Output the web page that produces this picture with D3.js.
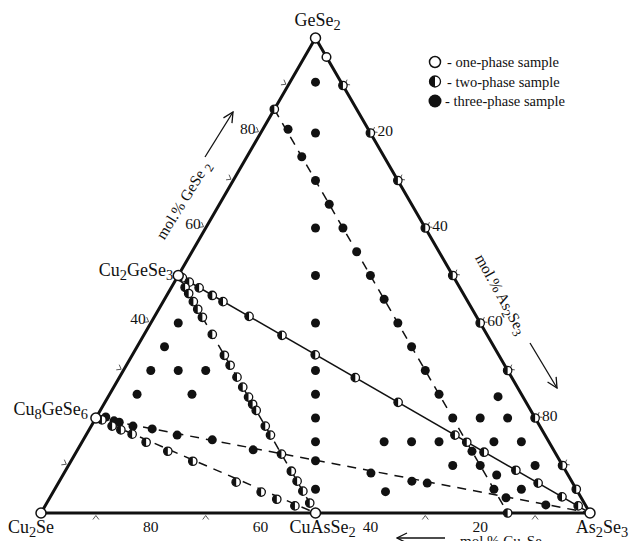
<!DOCTYPE html>
<html><head><meta charset="utf-8">
<script src="https://cdn.jsdelivr.net/npm/d3@7/dist/d3.min.js"></script>
<style>html,body{margin:0;padding:0;background:#fff;overflow:hidden}svg{display:block}</style>
</head><body>
<svg id="chart" width="630" height="541"></svg>
<script>
// Compositions in mol.%: [GeSe2, As2Se3]; Cu2Se = 100 - GeSe2 - As2Se3
const compoundNames = ["GeSe2", "Cu2Se", "As2Se3", "Cu2GeSe3", "Cu8GeSe6", "CuAsSe2"];
const compoundComp  = [[100, 0], [0, 0], [0, 100], [50, 0], [20, 0], [0, 50]];

const onePhase = [[100, 0], [0, 0], [0, 100], [50, 0], [20, 0], [0, 50], [96, 4]];

const twoPhaseEdges = [[85, 0], [0, 85], [90, 10], [80, 20], [70, 30], [60, 40], [50, 50],
  [40, 60], [30, 70], [20, 80], [10, 90], [5, 95]];
// Cu2GeSe3 - As2Se3 join
const twoPhaseJoin = [[49.5, 1], [48.6, 2.7], [47.4, 5.1], [45.8, 8.3], [44.5, 10.9], [41.4, 17.2],
  [37.4, 25.2], [33.3, 33.3], [28.5, 43], [23.3, 53.4], [16.4, 67.2], [14.9, 70.1], [12.8, 74.3],
  [9, 82], [6.3, 87.4], [3.4, 93.2], [1.5, 97.1]];
// Cu2GeSe3 - CuAsSe2 section
const twoPhaseSecA = [[47.5, 2.5], [46.2, 3.8], [44.5, 5.5], [42.9, 7.1], [41.2, 8.8], [37.6, 12.4],
  [33.2, 16.8], [31.1, 18.9], [28.6, 21.4], [26.5, 23.5], [24.4, 25.6], [22.9, 27.1], [21.6, 28.4],
  [18.3, 31.7], [16.4, 33.6], [12.4, 37.6], [8.8, 41.2], [6.7, 43.3], [4.6, 45.4], [2.1, 47.9]];
// Cu8GeSe6 - CuAsSe2 section
const twoPhaseSecB = [[19.6, 1.3], [18.3, 3.8], [17.5, 5.8], [16.6, 8.3], [14.9, 11.7], [13, 16.6],
  [10.9, 22.2], [6.5, 32.3], [4.4, 37.9], [2.9, 41.5], [1.5, 45.5]];

const threePhaseColumn = [[90.7, 4.65], [80, 10], [70, 15], [60, 20], [50, 25], [40, 30], [30, 35],
  [25, 37.5], [20, 40], [15, 42.5], [11, 44.5], [5, 47.5]];
const threePhaseCut15 = [[80.8, 4.6], [75, 10], [65, 20], [60, 25], [55, 30], [50, 35], [45, 40],
  [40, 45], [35, 50], [30, 55], [25, 60], [20, 65], [13, 72], [10, 75], [5, 80]];
const threePhaseCu8 = [[20.2, 1.7], [19.4, 3.6], [19.1, 4.7], [18.3, 7.6], [17.7, 11.4], [16.4, 16.6],
  [15.4, 23.5], [13.3, 32], [8.4, 55.9], [6.7, 64.2], [6.3, 67.2], [3.2, 83.1], [1.7, 91.1]];
const threePhaseLeft = [[40, 5], [35, 5], [30, 5], [30, 10], [30, 15], [25, 5], [25, 15]];
const threePhaseRight = [[15, 55], [15, 60], [15, 65], [4.5, 60.5], [10, 70], [24.5, 71], [20, 70],
  [20, 75], [15, 75], [15, 80], [10, 85], [8, 79], [5, 85]];

const solidLines = [[[50, 0], [0, 100]]];
const dashedLines = [[[85, 0], [0, 85]], [[50, 0], [0, 50]], [[20, 0], [0, 50]], [[20, 0], [0, 100]]];

const bottomTickLabels = ["80", "60", "40", "20"]; // mol.% Cu2Se
const leftTickLabels = ["40", "60", "80"];         // mol.% GeSe2
const rightTickLabels = ["20", "40", "60", "80"];  // mol.% As2Se3
const tickSteps = [10, 20, 30, 40, 50, 60, 70, 80, 90];
const legendLabels = ["- one-phase sample", "- two-phase sample", "- three-phase sample"];
const axisTitles = ["mol.% GeSe 2", "mol.% As2Se3", "mol.% Cu2Se"];

// ---------------------------------------------------------------
const svg = d3.select("#chart");
const FONT = "'Liberation Serif','Times New Roman',serif";
const INK = "#111";
const xs = d3.scaleLinear().domain([0, 100]).range([41, 590]);   // As2Se3 + GeSe2/2
const ys = d3.scaleLinear().domain([0, 100]).range([513, 38]);   // GeSe2
const proj = ([a, b]) => [xs(b + a / 2), ys(a)];

function rich(sel, str, sub = 0.8) {
  const parts = str.match(/\d+|\D+/g);
  let down = false;
  parts.forEach(p => {
    const isNum = /^\d+$/.test(p);
    const t = sel.append("tspan").text(p);
    if (isNum) { t.attr("dy", "0.3em").attr("font-size", (sub * 100) + "%"); down = true; }
    else if (down) { t.attr("dy", "-0.24em"); down = false; }
  });
  return sel;
}

// triangle
const tri = [[0, 0], [0, 100], [100, 0]].map(proj);
svg.append("path").attr("d", "M" + tri.join("L") + "Z")
  .attr("fill", "none").attr("stroke", INK).attr("stroke-width", 3).attr("stroke-linejoin", "miter");

// ticks (small chevrons outside edges)
const edges = [
  { pt: v => [0, v], n: [0, 1], d: [1, 0], vals: [10, 30, 70, 90] },
  { pt: v => [v, 0], n: [-0.866, -0.5], d: [0.5, -0.866], vals: [10, 30, 40, 60, 70, 80, 90] },
  { pt: v => [100 - v, v], n: [0.866, -0.5], d: [0.5, 0.866], vals: tickSteps }
];
edges.forEach(e => {
  e.vals.forEach(v => {
    const [x, y] = proj(e.pt(v));
    const ax = x + e.n[0] * 2.5, ay = y + e.n[1] * 2.5;
    const b1 = [x + e.n[0] * 6.5 - e.d[0] * 3, y + e.n[1] * 6.5 - e.d[1] * 3];
    const b2 = [x + e.n[0] * 6.5 + e.d[0] * 3, y + e.n[1] * 6.5 + e.d[1] * 3];
    svg.append("path").attr("d", `M${b1}L${ax},${ay}L${b2}`)
      .attr("fill", "none").attr("stroke", "#444").attr("stroke-width", 0.9);
  });
});

// joins
solidLines.forEach(l => svg.append("line")
  .attr("x1", proj(l[0])[0]).attr("y1", proj(l[0])[1]).attr("x2", proj(l[1])[0]).attr("y2", proj(l[1])[1])
  .attr("stroke", INK).attr("stroke-width", 1.5));
dashedLines.forEach(l => svg.append("line")
  .attr("x1", proj(l[0])[0]).attr("y1", proj(l[0])[1]).attr("x2", proj(l[1])[0]).attr("y2", proj(l[1])[1])
  .attr("stroke", INK).attr("stroke-width", 1.5).attr("stroke-dasharray", "9,7"));

// markers
function drawOpen(g, r) {
  g.append("circle").attr("r", r).attr("fill", "#fff").attr("stroke", INK).attr("stroke-width", 1.5);
}
function drawHalf(g, r) {
  g.append("circle").attr("r", r).attr("fill", "#fff").attr("stroke", INK).attr("stroke-width", 1.3);
  g.append("path").attr("d", `M0,${-r}A${r},${r} 0 0 0 0,${r}Z`).attr("fill", INK);
}
function drawFull(g, r) {
  g.append("circle").attr("r", r).attr("fill", INK);
}
const place = (data, fn, r) => data.forEach(c => {
  const [x, y] = proj(c);
  fn(svg.append("g").attr("transform", `translate(${x},${y})`), r);
});
place([...threePhaseColumn, ...threePhaseCut15, ...threePhaseCu8, ...threePhaseLeft, ...threePhaseRight], drawFull, 4.5);
place([...twoPhaseJoin, ...twoPhaseSecA, ...twoPhaseSecB, ...twoPhaseEdges], drawHalf, 4.2);
place(onePhase.slice(0, 6), drawOpen, 5);
place(onePhase.slice(6), drawOpen, 4.3);

// compound labels
const labelCfg = [
  { dx: 2, dy: -12, anchor: "middle" },
  { dx: -10, dy: 20, anchor: "middle" },
  { dx: 12, dy: 20, anchor: "middle" },
  { dx: -5, dy: 0, anchor: "end" },
  { dx: -8, dy: -3, anchor: "end" },
  { dx: 7, dy: 20, anchor: "middle" }
];
compoundNames.forEach((n, i) => {
  const [x, y] = proj(compoundComp[i]);
  rich(svg.append("text").attr("x", x + labelCfg[i].dx).attr("y", y + labelCfg[i].dy)
    .attr("text-anchor", labelCfg[i].anchor).attr("font-family", FONT).attr("font-size", 18)
    .attr("fill", INK), n);
});

// tick labels
const tl = (x, y, t, anchor) => svg.append("text").attr("x", x).attr("y", y).attr("text-anchor", anchor)
  .attr("font-family", FONT).attr("font-size", 15.5).attr("fill", INK).text(t);
bottomTickLabels.forEach(t => { const [x, y] = proj([0, 100 - +t]); tl(x, y + 19, t, "middle"); });
leftTickLabels.forEach(t => { const [x, y] = proj([+t, 0]); tl(x - 5, y + 1, t, "end"); });
rightTickLabels.forEach(t => { const [x, y] = proj([100 - +t, +t]); tl(x + 7, y + 3, t, "start"); });

// axis titles + arrows
svg.append("defs").append("marker").attr("id", "ah").attr("viewBox", "0 0 12 12")
  .attr("refX", 11).attr("refY", 6).attr("markerWidth", 12).attr("markerHeight", 12)
  .attr("markerUnits", "userSpaceOnUse").attr("orient", "auto")
  .append("path").attr("d", "M1,1L11,6L1,11").attr("fill", "none").attr("stroke", INK).attr("stroke-width", 1.3);
const title = (x, y, rot, str) => rich(svg.append("text")
  .attr("transform", `translate(${x},${y}) rotate(${rot})`).attr("text-anchor", "middle")
  .attr("dy", "0.35em").attr("font-family", FONT).attr("font-size", 15.5).attr("fill", INK), str);
title(183, 200, -58, axisTitles[0]);
title(501, 294, 61, axisTitles[1]);
svg.append("text").attr("x", 460).attr("y", 546).attr("font-family", FONT).attr("font-size", 15)
  .attr("fill", INK).call(s => rich(s, axisTitles[2]));
const arrow = (x1, y1, x2, y2) => svg.append("line").attr("x1", x1).attr("y1", y1).attr("x2", x2).attr("y2", y2)
  .attr("stroke", INK).attr("stroke-width", 1.3).attr("marker-end", "url(#ah)");
arrow(205, 157, 233, 112);
arrow(530, 343, 557, 388);
arrow(445, 538, 397, 538);

// legend
const lg = svg.append("g");
[drawOpen, drawHalf, drawFull].forEach((fn, i) => {
  const y = 62 + i * 19.5;
  fn(lg.append("g").attr("transform", `translate(435,${y})`), i === 2 ? 6.5 : 5.5);
  lg.append("text").attr("x", i === 2 ? 445 : 447).attr("y", y + 5).attr("font-family", FONT)
    .attr("font-size", 14.5).attr("fill", INK).text(legendLabels[i]);
});
</script>
</body></html>
